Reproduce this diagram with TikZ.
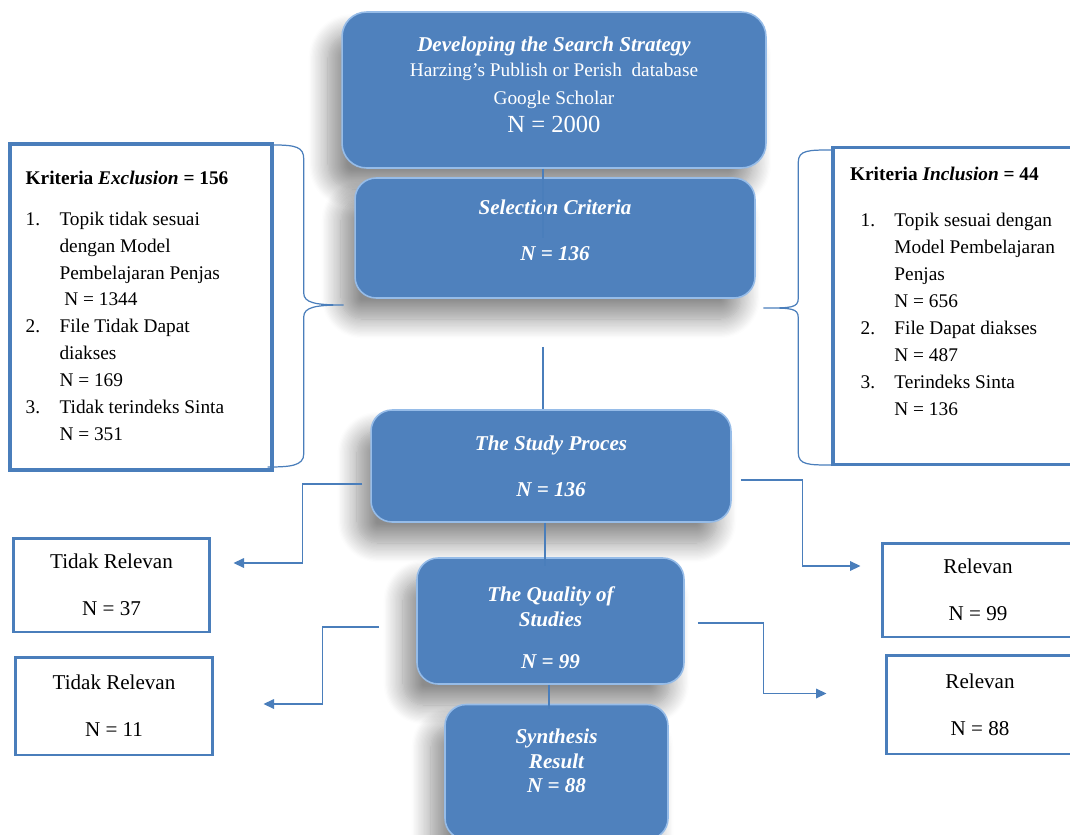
\documentclass[tikz,border=0pt]{standalone}
\usepackage{fontspec}
\setmainfont{Liberation Serif}
\usepackage{tikz}
\usetikzlibrary{calc, positioning, shadows.blur, arrows.meta}

\definecolor{blockblue}{RGB}{79,129,189}
\definecolor{bevelblue}{RGB}{150,188,232}
\definecolor{lineblue}{RGB}{74,126,187}

\begin{document}
\begin{tikzpicture}[x=0.02cm, y=-0.02cm,
                    block/.style={
                    rectangle,
                    rounded corners=12pt,
                    fill=blockblue,
                    draw=bevelblue,
                    line width=0.9pt,
                    text=white,
                    align=center,
                    font=\fontsize{12}{14}\selectfont\bfseries\itshape,
                    blur shadow={shadow xshift=-8pt, shadow yshift=-12pt, shadow blur radius=11pt, shadow blur steps=16, shadow opacity=45},
                }, listbox/.style={
                    rectangle,
                    draw=lineblue,
                    line width=2pt,
                    fill=white,
                    font=\fontsize{11}{15.3}\selectfont,
                }, resultbox/.style={
                    rectangle,
                    draw=lineblue,
                    line width=1.7pt,
                    fill=white,
                    align=center,
                    font=\fontsize{12}{14}\selectfont,
                }, link/.style={
                    draw=lineblue,
                    line width=0.7pt,
                }, sidearrow/.style={
                    link,
                    -{Triangle[length=6pt, width=5.5pt]},
                }, ]

\useasboundingbox (0,0) rectangle (1070,834);

% ------ Main flow ------- %
\draw
(554,90) node[block, minimum width=8.48cm, minimum height=3.12cm, rounded corners=14pt](search){Developing the Search Strategy\\ {\mdseries\upshape\fontsize{11}{15}\selectfont Harzing's Publish or Perish\ \ database}\\[2pt] {\mdseries\upshape\fontsize{11}{15}\selectfont Google Scholar}\\[2pt] {\mdseries\upshape\fontsize{14}{15}\selectfont N = 2000}\\[-8pt]\mbox{}}
(555,238) node[block, minimum width=8cm, minimum height=2.4cm](selection){Selection Criteria\\[12.6pt] N = 136\\[-5pt]\mbox{}}
(551,466) node[block, minimum width=7.2cm, minimum height=2.24cm](study){The Study Proces\\[12pt] N = 136}
(550.5,621) node[block, minimum width=5.34cm, minimum height=2.52cm](quality){\mbox{}\\[2pt]The Quality of\\ Studies\\[9.8pt] N = 99}
(556.5,772) node[block, minimum width=4.46cm, minimum height=2.7cm](synthesis){Synthesis\\ Result\\ N = 88\\[-1.5pt]\mbox{}}
;

% ------ Criteria ------- %
\draw
(141,307) node[listbox, minimum width=5.24cm, minimum height=6.52cm](exclusion){%
\begin{tabular}{@{}l@{\hspace{11pt}}p{112pt}@{}}
\multicolumn{2}{@{}l@{}}{\textbf{Kriteria \textit{Exclusion} = 156}}\\[8pt]
1. & Topik tidak sesuai\\
   & dengan Model\\
   & Pembelajaran Penjas\\
   & \ N = 1344\\
2. & File Tidak Dapat\\
   & diakses\\
   & N = 169\\
3. & Tidak terindeks Sinta\\
   & N = 351
\end{tabular}}
(952.5,306) node[listbox, minimum width=4.78cm, minimum height=6.34cm](inclusion){%
\begin{tabular}{@{\hspace{6pt}}l@{\hspace{11pt}}l@{}}
\multicolumn{2}{@{}l@{}}{\textbf{Kriteria \textit{Inclusion} = 44}}\\[11pt]
1. & Topik sesuai dengan\\
   & Model Pembelajaran\\
   & Penjas\\
   & N = 656\\
2. & File Dapat diakses\\
   & N = 487\\
3. & Terindeks Sinta\\
   & N = 136\\
   &
\end{tabular}}
;

% ------ Results ------- %
\draw
(111.5,585) node[resultbox, minimum width=3.94cm, minimum height=1.88cm](notrelevant_a){Tidak Relevan\\[12.6pt] N = 37}
(114,706) node[resultbox, minimum width=3.96cm, minimum height=1.96cm](notrelevant_b){Tidak Relevan\\[12.6pt] N = 11}
(978,590) node[resultbox, minimum width=3.84cm, minimum height=1.88cm](relevant_a){Relevan\\[12.6pt] N = 99}
(980,704.5) node[resultbox, minimum width=3.76cm, minimum height=1.98cm](relevant_b){Relevan\\[12.6pt] N = 88}
;

% vertical links
\draw [link] ($(search.south)+(-11,0)$) -- ($(selection.center)+(-12,0)$);
\coordinate (selection_gap) at ($(selection.south)+(-12,48)$);
\draw [link] (selection_gap) -- (selection_gap |- study.north);
\draw [link] ($(study.south)+(-6,0)$) -- ($(quality.north)+(-5.5,9)$);
\draw [link] ($(quality.south)+(-1.5,0)$) -- ($(synthesis.north)+(-7.5,5)$);

% side branches
\draw [sidearrow] ($(study.west)+(-8,18)$) -- ++(-60,0) |- ($(notrelevant_a.east)+(22,-22)$);
\draw [sidearrow] ($(quality.west)+(-37,6)$) -- ++(-57,0) |- ($(notrelevant_b.east)+(49,-2)$);
\draw [sidearrow] ($(study.east)+(9,14)$) -- ++(62,0) |- ($(relevant_a.west)+(-20,-24)$);
\draw [sidearrow] ($(quality.east)+(13,2)$) -- ++(66,0) |- ($(relevant_b.west)+(-58,-11)$);

% braces
\draw [link] ($(exclusion.east)+(0,-162)$) .. controls +(22,0) and +(0,-12) .. ($(exclusion.east)+(30,-148)$)
-- ($(exclusion.east)+(30,-14)$) .. controls +(0,10) and +(-28,0) .. ($(exclusion.east)+(70,-2)$)
.. controls +(-28,0) and +(0,-10) .. ($(exclusion.east)+(30,10)$)
-- ($(exclusion.east)+(30,147)$) .. controls +(0,12) and +(22,0) .. ($(exclusion.east)+(-6,160)$);
\draw [link] ($(inclusion.west)+(0,-156)$) .. controls +(-22,0) and +(0,-12) .. ($(inclusion.west)+(-33,-144)$)
-- ($(inclusion.west)+(-33,-8)$) .. controls +(0,10) and +(28,0) .. ($(inclusion.west)+(-68,2)$)
.. controls +(28,0) and +(0,-10) .. ($(inclusion.west)+(-33,12)$)
-- ($(inclusion.west)+(-33,147)$) .. controls +(0,12) and +(-22,0) .. ($(inclusion.west)+(0,159)$);

\end{tikzpicture}
\end{document}
